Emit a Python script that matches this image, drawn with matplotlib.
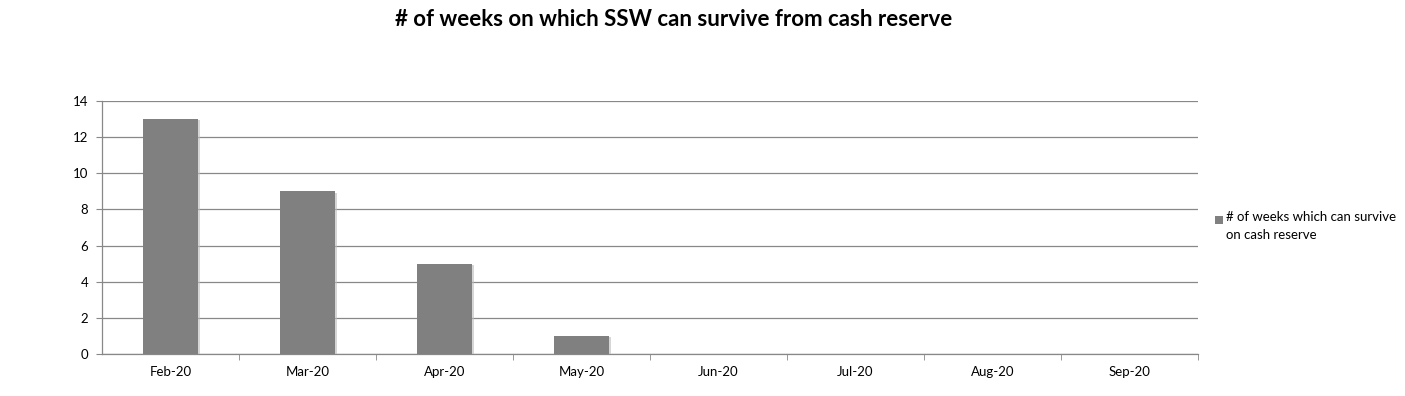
import matplotlib
matplotlib.use("Agg")
import matplotlib.pyplot as plt
import matplotlib.patheffects as pe
from matplotlib.patches import Rectangle

categories = ["Feb-20", "Mar-20", "Apr-20", "May-20", "Jun-20", "Jul-20", "Aug-20", "Sep-20"]
weeks = [13, 9, 5, 1, 0, 0, 0, 0]
series_label = "# of weeks which can survive\non cash reserve"
title = "# of weeks on which SSW can survive from cash reserve"
yticks = [0, 2, 4, 6, 8, 10, 12, 14]

plt.rcParams['font.family'] = ['Lato', 'DejaVu Sans']

W, H = 1405, 396
BAR = "#808080"
fig = plt.figure(figsize=(W / 100, H / 100), dpi=100)
ax = fig.add_axes([102 / W, 1 - 354 / H, (1198 - 102) / W, (354 - 101) / H])

x = list(range(len(categories)))
bars = ax.bar(x, weeks, width=0.4, color=BAR, zorder=3, label=series_label)
for b in bars:
    b.set_path_effects([pe.SimplePatchShadow(offset=(1.5, -1), shadow_rgbFace="#bbbbbb", alpha=0.6), pe.Normal()])

ax.set_xlim(-0.5, len(categories) - 0.5)
ax.set_ylim(0, 14)
ax.set_yticks(yticks)
ax.set_yticklabels([str(v) for v in yticks], fontsize=9.5)
ax.set_xticks(x)
ax.set_xticklabels(categories, fontsize=9.5)
ax.tick_params(axis='x', length=0, pad=9)
ax.set_xticks([i + 0.5 for i in range(len(categories))], minor=True)
ax.tick_params(axis='x', which='minor', length=4, color="#888888", direction='out')
ax.tick_params(axis='y', length=4, color="#888888", direction='out', pad=6)

ax.yaxis.grid(True, color="#888888", linewidth=0.9, zorder=0)
ax.set_axisbelow(True)
for s in ["top", "right"]:
    ax.spines[s].set_visible(False)
for s in ["left", "bottom"]:
    ax.spines[s].set_color("#888888")
    ax.spines[s].set_linewidth(0.9)

fig.text(674 / W, 1 - 20 / H, title, ha="center", va="center", fontsize=16, fontweight="bold")

# legend drawn manually: marker aligned with the first text line
fig.patches.append(Rectangle((1215 / W, 1 - 224 / H), 8 / W, 8 / H,
                             transform=fig.transFigure, facecolor=BAR, edgecolor="none"))
fig.text(1226 / W, 1 - 211 / H, series_label, ha="left", va="top", fontsize=9.5,
         linespacing=1.55)

fig.savefig("out.png", dpi=100, facecolor="white")
